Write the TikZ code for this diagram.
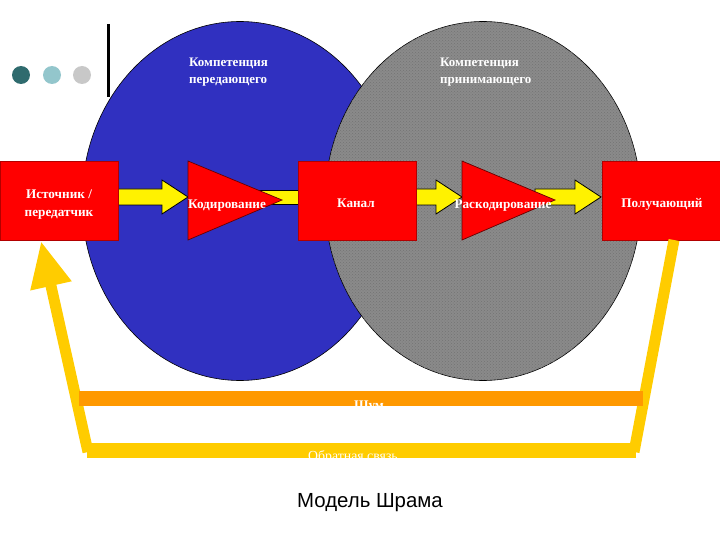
\documentclass[tikz,border=0pt]{standalone}
\usepackage{fontspec}
\setmainfont{Liberation Serif}
\newfontfamily\captionfont{Liberation Sans}
\usetikzlibrary{arrows.meta}
\usetikzlibrary{calc}
\usetikzlibrary{patterns}
\usetikzlibrary{shapes.geometric}
\definecolor{ovalblue}{HTML}{3030C0}
\definecolor{ovalgray}{HTML}{8A8A8A}
\definecolor{feedyellow}{HTML}{FFCC00}
\definecolor{noiseorange}{HTML}{FF9900}
\definecolor{dotteal}{HTML}{2F6B6E}
\definecolor{dotblue}{HTML}{93C6CC}
\definecolor{dotgray}{HTML}{C8C8C8}
\newcommand{\blockarrow}[2]{\draw[blockline] let \p1=(#1),\p2=(#2) in
  (\x1,\y1+8pt)--(\x2-26pt,\y1+8pt)--(\x2-26pt,\y1+17pt)--(\x2,\y1)--(\x2-26pt,\y1-17pt)--(\x2-26pt,\y1-8pt)--(\x1,\y1-8pt)--cycle;}
\begin{document}
\begin{tikzpicture}[x=1pt,y=-1pt,
  oval/.style={ellipse,draw=black,line width=0.6pt,minimum width=316pt,minimum height=359pt,inner sep=0pt},
  redbox/.style={rectangle,fill=red,draw=red!70!black,line width=0.6pt,minimum width=118pt,minimum height=79pt,inner sep=0pt},
  tricorner/.style={fill=red,draw=red!40!black,line width=0.7pt},
  blockline/.style={fill=yellow,draw=black,line width=0.8pt},
  whitetext/.style={text=white,inner sep=0pt,align=center,font=\fontsize{13.2}{18}\selectfont\bfseries},
  oldtext/.style={whitetext,align=left,anchor=north west,font=\fontsize{13}{17}\selectfont\bfseries},
  feedline/.style={draw=feedyellow,line width=11pt},
  dot/.style={circle,inner sep=0pt,minimum size=18pt}]
  \useasboundingbox (0,0) rectangle (720,540);

  \node[dot,fill=dotteal] (dot1) at (21,75){};
  \node[dot,fill=dotblue] (dot2) at (52,75){};
  \node[dot,fill=dotgray] (dot3) at (82,75){};
  \coordinate (ruletop) at (108,24);
  \coordinate (rulebot) at (108,97);
  \draw[line width=3pt](ruletop)--(rulebot);

  \node[oval,fill=ovalblue] (sender) at (240,201){};
  \node[oval,fill=ovalgray,postaction={pattern=crosshatch dots,pattern color=black!55}] (receiver) at (483,201){};
  \node[oldtext] (sendertext) at (189,58){Компетенция\\передающего};
  \node[oldtext] (receivertext) at (440,58){Компетенция\\принимающего};

  \coordinate (srcout) at (118,197);
  \coordinate (codein) at (188,197);
  \coordinate (chanout) at (416,197);
  \coordinate (decin) at (462,197);
  \coordinate (decout) at (535,197);
  \coordinate (recvin) at (601,197);
  \blockarrow{srcout}{codein}
  \blockarrow{chanout}{decin}
  \blockarrow{decout}{recvin}
  \node[rectangle,fill=yellow,draw=black,line width=0.8pt,minimum width=40pt,minimum height=14pt,inner sep=0pt] (codebar) at (279,197){};

  \coordinate (code1) at (188,161);
  \coordinate (code2) at (282,200);
  \coordinate (code3) at (188,240);
  \coordinate (dec1) at (462,161);
  \coordinate (dec2) at (555,200);
  \coordinate (dec3) at (462,240);
  \draw[tricorner](code1)--(code2)--(code3)--cycle;
  \draw[tricorner](dec1)--(dec2)--(dec3)--cycle;
  \node[whitetext] (codetext) at (227,206){Кодирование};
  \node[whitetext] (dectext) at (503,206){Раскодирование};

  \node[redbox] (source) at (59,200.5){};
  \node[redbox] (channel) at (357,200.5){};
  \node[redbox] (target) at (661.5,200.5){};
  \node[whitetext] (sourcetext) at (59,204.5){Источник /\\передатчик};
  \node[whitetext] (channeltext) at (356,203){Канал};
  \node[whitetext] (targettext) at (662,204){Получающий};

  \coordinate (feedtip) at (41,241);
  \coordinate (feedleft) at (88,452);
  \coordinate (feedright) at (634,452);
  \coordinate (feedtop) at (674,240);
  \draw[feedline](feedright)--(feedtop);
  \draw[feedline,-{Triangle[width=39pt,length=46pt]}](feedleft)--(feedtip);
  \coordinate (noisea) at (79,398.5);
  \coordinate (noiseb) at (643,398.5);
  \coordinate (backa) at (87,450.5);
  \coordinate (backb) at (636,450.5);
  \draw[line width=15pt,noiseorange](noisea)--(noiseb);
  \draw[line width=15pt,feedyellow](backa)--(backb);
  \node[whitetext] (noisetext) at (369,407){Шум};
  \node[whitetext,font=\fontsize{13.8}{16}\selectfont] (backtext) at (353,457){Обратная связь};

  \node[inner sep=0pt,font=\captionfont\fontsize{20.4}{24}\selectfont] (caption) at (370,503){Модель Шрама};
\end{tikzpicture}
\end{document}
